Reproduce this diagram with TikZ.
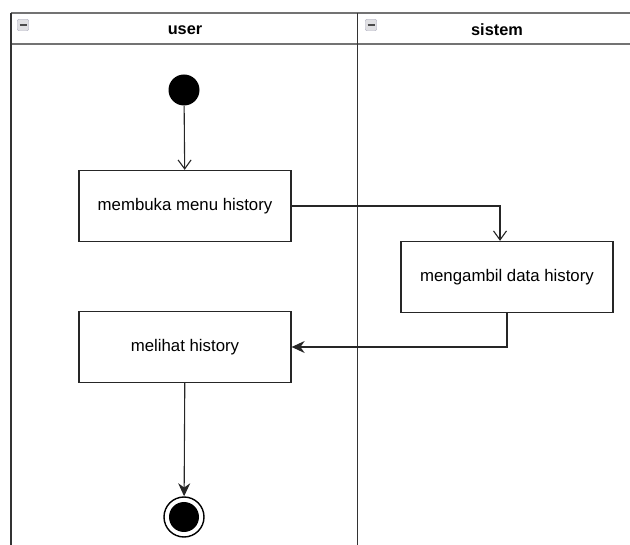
\documentclass[tikz,border=0pt]{standalone}
\usepackage{fontspec}
\setmainfont{Liberation Sans}
\usetikzlibrary{arrows.meta}

\tikzset{
  garis/.style={draw=black!80,line width=1.5pt},
  aksi/.style={draw=black!85,line width=1.3pt,fill=white,minimum width=212pt,minimum height=71pt,inner sep=0pt,font=\fontsize{16.8}{19}\selectfont},
  judul/.style={font=\bfseries\fontsize{16.3}{19}\selectfont},
  mulai/.style={circle,fill=black,minimum size=31pt,inner sep=0pt},
  akhir/.style={circle,draw=black,line width=1.4pt,minimum size=40pt,inner sep=0pt,
    path picture={\fill[black] (path picture bounding box.center) circle (15pt);}},
  ikon/.style={draw=blue!20!black!30,fill=blue!10!black!12,rounded corners=2pt,minimum size=11.5pt,inner sep=0pt},
  buka/.style={draw=black!85,line width=1.1pt,-{Straight Barb[length=9pt,width=13pt,line width=1.1pt]}},
  panah/.style={draw=black!85,line width=1.1pt,-{Stealth[length=13pt,width=12pt]}}
}

\begin{document}
\begin{tikzpicture}[x=1pt,y=-1pt]
\useasboundingbox (0,0) rectangle (630,545);
% swimlanes
\draw[garis,draw=black!55] (11,13) -- (630,13);
\draw[garis,draw=black!55] (11,44) -- (630,44);
\draw[garis] (11,13) -- (11,545);
\draw[garis] (357.5,13) -- (357.5,545);
\node[ikon] (ikonUser) at (23,25) {};
\draw[black!70,line width=1.8pt] (ikonUser.center) ++(-3.5,0) -- ++(7,0);
\node[ikon] (ikonSistem) at (371,25) {};
\draw[black!70,line width=1.8pt] (ikonSistem.center) ++(-3.5,0) -- ++(7,0);
\node[judul] (laneUser) at (185,30) {user};
\node[judul] (laneSistem) at (497,30) {sistem};

% aktivitas
\node[mulai] (start) at (184,90) {};
\node[aksi] (bukaMenu) at (185,206) {membuka menu history};
\node[aksi] (ambilData) at (507,277) {mengambil data history};
\node[aksi] (lihatHistory) at (185,347) {melihat history};
\node[akhir] (finish) at (184,517) {};

% alur
\draw[buka] (start) -- (bukaMenu);
\draw[buka] (bukaMenu.east) -| ([xshift=-7pt]ambilData.north);
\draw[panah] (ambilData.south) |- (lihatHistory.east);
\draw[panah] (lihatHistory) -- (finish);
\end{tikzpicture}
\end{document}
